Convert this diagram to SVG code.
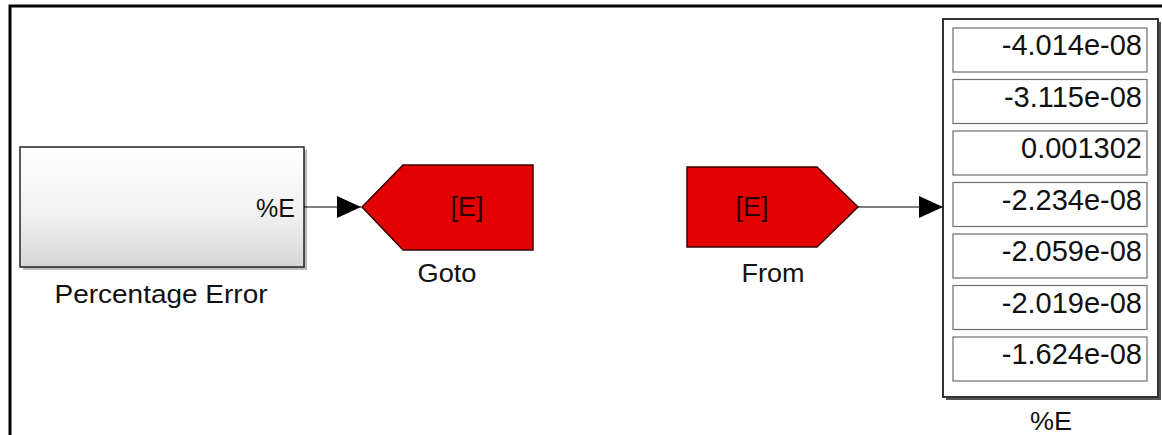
<svg xmlns="http://www.w3.org/2000/svg" width="1162" height="435" viewBox="0 0 1162 435">
  <style>
    text { font-family: "Liberation Sans", Arial, sans-serif; fill: #111; }
    .lbl { font-size: 26px; text-anchor: middle; }
    .tag { font-size: 27px; text-anchor: middle; fill: #2a0000; }
    .val { font-size: 29px; text-anchor: end; }
    .cell { fill: #ffffff; stroke: #6e6e6e; stroke-width: 1.2; }
    .red { fill: #e30000; stroke: #3a0000; stroke-width: 1.5; }
    .wire { stroke: #000; stroke-width: 1.2; fill: none; }
  </style>
  <defs>
    <linearGradient id="blockFill" x1="0" y1="0" x2="0" y2="1">
      <stop offset="0" stop-color="#ffffff"/>
      <stop offset="0.55" stop-color="#f1f1f1"/>
      <stop offset="1" stop-color="#d6d6d6"/>
    </linearGradient>
    <marker id="arrow" viewBox="0 0 24 22" refX="24" refY="11" markerWidth="24" markerHeight="22" markerUnits="userSpaceOnUse" orient="auto">
      <path d="M0,0 L24,11 L0,22 Z" fill="#000"/>
    </marker>
  </defs>

  <rect width="1162" height="435" fill="#ffffff"/>

  <!-- model frame -->
  <path d="M10,440 L10,6 L1170,6" fill="none" stroke="#000" stroke-width="3"/>

  <!-- subsystem block -->
  <g id="percentage-error">
    <rect x="23" y="150" width="284" height="120" fill="#8c8c8c" opacity="0.6"/>
    <rect x="20" y="147" width="284" height="120" fill="url(#blockFill)" stroke="#222" stroke-width="1.5"/>
    <text x="295" y="217" font-size="25" text-anchor="end">%E</text>
    <text class="lbl" x="161" y="303" textLength="213" lengthAdjust="spacingAndGlyphs">Percentage Error</text>
  </g>

  <!-- goto tag -->
  <g id="goto">
    <polygon class="red" points="362,207 403,165 533,165 533,250 403,250"/>
    <text class="tag" x="467" y="216">[E]</text>
    <text class="lbl" x="447" y="282" textLength="59" lengthAdjust="spacingAndGlyphs">Goto</text>
  </g>

  <!-- from tag -->
  <g id="from">
    <polygon class="red" points="687,167 817,167 858,207 817,247 687,247"/>
    <text class="tag" x="752" y="216">[E]</text>
    <text class="lbl" x="773" y="282" textLength="63" lengthAdjust="spacingAndGlyphs">From</text>
  </g>

  <!-- display block -->
  <g id="display">
    <rect x="946" y="22" width="215" height="378" fill="#555"/>
    <rect x="943" y="19" width="215" height="378" fill="#ffffff" stroke="#333" stroke-width="2"/>
    <rect class="cell" x="953" y="28" width="194" height="44"/>
    <rect class="cell" x="953" y="79.5" width="194" height="44"/>
    <rect class="cell" x="953" y="131" width="194" height="44"/>
    <rect class="cell" x="953" y="182.5" width="194" height="44"/>
    <rect class="cell" x="953" y="234" width="194" height="44"/>
    <rect class="cell" x="953" y="285.5" width="194" height="44"/>
    <rect class="cell" x="953" y="337" width="194" height="44"/>
    <text class="val" x="1142" y="55">-4.014e-08</text>
    <text class="val" x="1142" y="106.5">-3.115e-08</text>
    <text class="val" x="1142" y="158">0.001302</text>
    <text class="val" x="1142" y="209.5">-2.234e-08</text>
    <text class="val" x="1142" y="261">-2.059e-08</text>
    <text class="val" x="1142" y="312.5">-2.019e-08</text>
    <text class="val" x="1142" y="364">-1.624e-08</text>
    <text class="lbl" x="1051" y="430" textLength="42" lengthAdjust="spacingAndGlyphs">%E</text>
  </g>

  <!-- signal lines -->
  <g id="connectors">
    <line class="wire" x1="304" y1="207" x2="361" y2="207" marker-end="url(#arrow)"/>
    <line class="wire" x1="858" y1="207" x2="943" y2="207" marker-end="url(#arrow)"/>
  </g>
</svg>
